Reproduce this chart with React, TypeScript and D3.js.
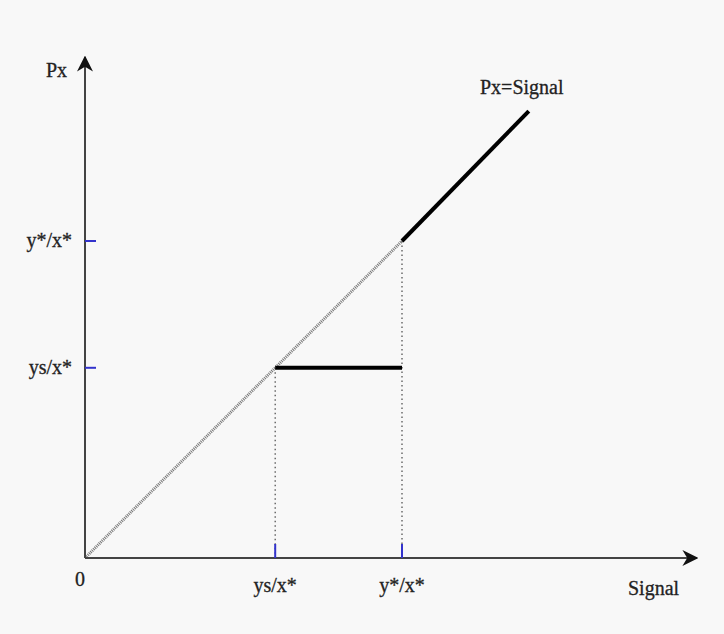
import React, { useEffect, useRef } from 'react';
import * as d3 from 'd3';

// positions along both axes, in units of y*/x*
const tickValues = [0.6, 1];
const tickLabels = ['ys/x*', 'y*/x*'];
const diagonal = [[0, 0], [1, 1]];
const thickDiag = [[1, 1], [1.4, 1.41]];
const floorLine = [[0.6, 0.6], [1, 0.6]];
const axisEnd = { x: 1.93, y: 1.58 };

const W = 724;
const H = 634;

const App = () => {
  const ref = useRef<SVGSVGElement>(null);

  useEffect(() => {
    document.body.style.margin = '0';
    const svg = d3.select(ref.current);
    svg.selectAll('*').remove();

    const ox = 85, oy = 558, k = 317;
    const x = d3.scaleLinear().domain([0, 1]).range([ox, ox + k]);
    const y = d3.scaleLinear().domain([0, 1]).range([oy, oy - k]);
    const font = '"Liberation Serif", "Times New Roman", serif';

    svg.append('rect').attr('width', W).attr('height', H).attr('fill', '#f8f8f8');

    const defs = svg.append('defs');
    defs.append('marker')
      .attr('id', 'arr')
      .attr('viewBox', '0 0 10 10')
      .attr('refX', 9).attr('refY', 5)
      .attr('markerWidth', 16).attr('markerHeight', 16)
      .attr('markerUnits', 'userSpaceOnUse')
      .attr('orient', 'auto')
      .append('path').attr('d', 'M0,0 L10,5 L0,10 L3,5 Z').attr('fill', '#111');

    const line = d3.line<number[]>().x(d => x(d[0])).y(d => y(d[1]));

    // dotted guides
    svg.append('path').attr('d', line(diagonal as any))
      .attr('stroke', '#555').attr('stroke-width', 3).attr('stroke-dasharray', '1,1')
      .attr('stroke-opacity', 0.8).attr('fill', 'none');
    tickValues.forEach((v, i) => {
      const top = i === 0 ? 0.6 : 1;
      svg.append('line')
        .attr('x1', x(v)).attr('x2', x(v)).attr('y1', y(top)).attr('y2', y(0))
        .attr('stroke', '#555').attr('stroke-width', 1.3).attr('stroke-dasharray', '1.5,3');
    });

    // axes
    svg.append('line').attr('x1', x(0)).attr('y1', y(0)).attr('x2', x(axisEnd.x)).attr('y2', y(0))
      .attr('stroke', '#444').attr('stroke-width', 2).attr('marker-end', 'url(#arr)');
    svg.append('line').attr('x1', x(0)).attr('y1', y(0)).attr('x2', x(0)).attr('y2', y(axisEnd.y))
      .attr('stroke', '#444').attr('stroke-width', 2).attr('marker-end', 'url(#arr)');

    // ticks
    tickValues.forEach(v => {
      svg.append('line').attr('x1', x(v)).attr('x2', x(v)).attr('y1', y(0) - 14).attr('y2', y(0))
        .attr('stroke', '#3333cc').attr('stroke-width', 2);
      svg.append('line').attr('x1', x(0)).attr('x2', x(0) + 11).attr('y1', y(v)).attr('y2', y(v))
        .attr('stroke', '#3333cc').attr('stroke-width', 2);
    });

    // thick segments
    svg.append('path').attr('d', line(thickDiag as any))
      .attr('stroke', '#000').attr('stroke-width', 4).attr('fill', 'none');
    svg.append('path').attr('d', line(floorLine as any))
      .attr('stroke', '#000').attr('stroke-width', 4).attr('fill', 'none');

    const text = (tx: number, ty: number, s: string, anchor = 'start') =>
      svg.append('text').attr('x', tx).attr('y', ty).attr('text-anchor', anchor)
        .attr('font-family', font).attr('font-size', 20).attr('fill', '#222')
        .attr('stroke', '#222').attr('stroke-width', 0.3).text(s);

    tickLabels.forEach((s, i) => {
      text(x(tickValues[i]), y(0) + 34, s, 'middle');
      text(x(0) - 13, y(tickValues[i]) + 6, s, 'end');
    });
    text(x(0) - 5, y(0) + 28, '0', 'middle');
    text(46, 77, 'Px');
    text(628, 595, 'Signal');
    text(480, 94, 'Px=Signal');
  }, []);

  return <svg ref={ref} width={W} height={H} style={{ display: 'block' }} />;
};

export default App;
